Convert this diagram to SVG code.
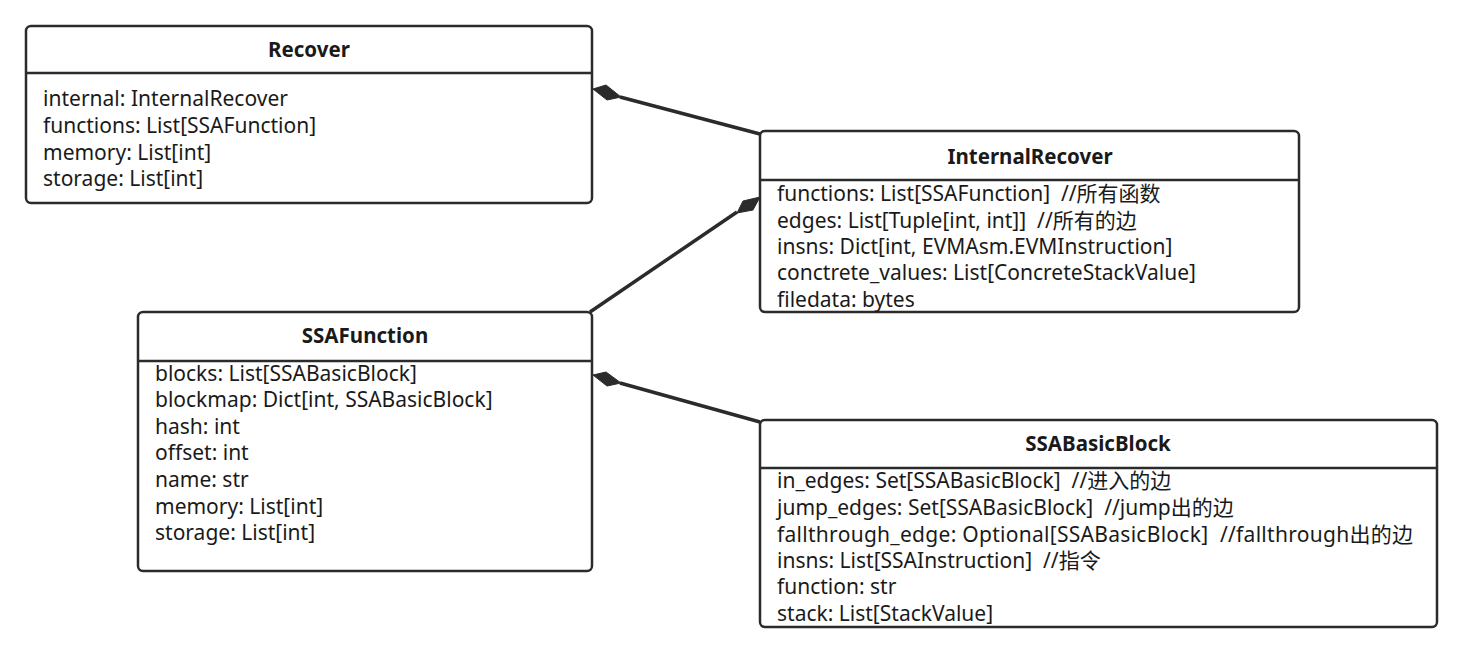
<svg xmlns="http://www.w3.org/2000/svg" width="1469" height="656" viewBox="0 0 1469 656">
<defs>
<style>
.box{fill:#fff;stroke:#2b2b2b;stroke-width:2.5}
.div{stroke:#2b2b2b;stroke-width:2.5}
.t{font-family:"Noto Sans","Noto Sans CJK SC",sans-serif;font-size:21px;fill:#1a1a1a;white-space:pre}
.h{font-family:"Noto Sans","Noto Sans CJK SC",sans-serif;font-size:20.5px;font-weight:bold;fill:#1a1a1a;text-anchor:middle}
.c{stroke:#2b2b2b;stroke-width:3.5;fill:none}
.d{fill:#2b2b2b;stroke:#2b2b2b;stroke-width:1}
</style>
</defs>
<rect width="1469" height="656" fill="#fff"/>
<g id="connectors">
<line class="c" x1="620" y1="97" x2="760" y2="134"/>
<polygon class="d" points="593,89 606,85 621,97 607,100"/>
<line class="c" x1="737" y1="212" x2="590" y2="312"/>
<polygon class="d" points="760,197 753,210 737,213 743,201"/>
<line class="c" x1="620" y1="383" x2="760" y2="422"/>
<polygon class="d" points="593,375 606,372 621,383 607,386"/>
</g>
<g id="Recover">
<rect class="box" x="26" y="26" width="566" height="177" rx="5"/>
<line class="div" x1="26" y1="73" x2="592" y2="73"/>
<text class="h" x="309" y="57">Recover</text>
<text class="t" x="43" y="106" textLength="245" lengthAdjust="spacing">internal: InternalRecover</text>
<text class="t" x="43" y="133">functions: List[SSAFunction]</text>
<text class="t" x="43" y="160">memory: List[int]</text>
<text class="t" x="43" y="186">storage: List[int]</text>
</g>
<g id="InternalRecover">
<rect class="box" x="760" y="131" width="539" height="181" rx="5"/>
<line class="div" x1="760" y1="180" x2="1299" y2="180"/>
<text class="h" x="1030" y="164">InternalRecover</text>
<text class="t" x="777" y="201" xml:space="preserve">functions: List[SSAFunction]  //所有函数</text>
<text class="t" x="777" y="228" xml:space="preserve">edges: List[Tuple[int, int]]  //所有的边</text>
<text class="t" x="777" y="254">insns: Dict[int, EVMAsm.EVMInstruction]</text>
<text class="t" x="777" y="280">conctrete_values: List[ConcreteStackValue]</text>
<text class="t" x="777" y="307">filedata: bytes</text>
</g>
<g id="SSAFunction">
<rect class="box" x="138" y="312" width="454" height="259" rx="5"/>
<line class="div" x1="138" y1="361" x2="592" y2="361"/>
<text class="h" x="365" y="343">SSAFunction</text>
<text class="t" x="155" y="381">blocks: List[SSABasicBlock]</text>
<text class="t" x="155" y="407">blockmap: Dict[int, SSABasicBlock]</text>
<text class="t" x="155" y="434">hash: int</text>
<text class="t" x="155" y="460">offset: int</text>
<text class="t" x="155" y="487">name: str</text>
<text class="t" x="155" y="514">memory: List[int]</text>
<text class="t" x="155" y="540">storage: List[int]</text>
</g>
<g id="SSABasicBlock">
<rect class="box" x="760" y="420" width="677" height="207" rx="5"/>
<line class="div" x1="760" y1="468" x2="1437" y2="468"/>
<text class="h" x="1098" y="451">SSABasicBlock</text>
<text class="t" x="777" y="488" xml:space="preserve">in_edges: Set[SSABasicBlock]  //进入的边</text>
<text class="t" x="777" y="515" xml:space="preserve">jump_edges: Set[SSABasicBlock]  //jump出的边</text>
<text class="t" x="777" y="542" xml:space="preserve" textLength="636" lengthAdjust="spacing">fallthrough_edge: Optional[SSABasicBlock]  //fallthrough出的边</text>
<text class="t" x="777" y="568" xml:space="preserve">insns: List[SSAInstruction]  //指令</text>
<text class="t" x="777" y="594">function: str</text>
<text class="t" x="777" y="621">stack: List[StackValue]</text>
</g>
</svg>
